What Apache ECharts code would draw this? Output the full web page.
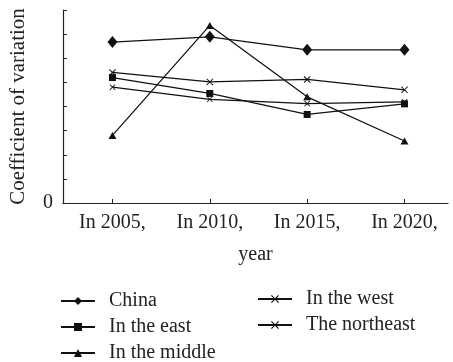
<!DOCTYPE html>
<html>
<head>
<meta charset="utf-8">
<script src="https://cdn.jsdelivr.net/npm/echarts@6/dist/echarts.min.js"></script>
<style>
  html, body { margin: 0; padding: 0; background: #fff; }
  #chart { width: 453px; height: 362px; }
</style>
</head>
<body>
<div id="chart"></div>
<script>
// Survey years on the horizontal axis
const years = ['In 2005,', 'In 2010,', 'In 2015,', 'In 2020,'];

// Coefficient of variation by region
const china     = [6.67, 6.89, 6.35, 6.35];
const east      = [5.20, 4.54, 3.67, 4.11];
const middle    = [2.80, 7.36, 4.40, 2.57];
const west      = [5.41, 5.02, 5.12, 4.69];
const northeast = [4.80, 4.30, 4.12, 4.19];

const seriesNames = ['China', 'In the east', 'In the middle', 'In the west', 'The northeast'];

const yTicks = [0, 1, 2, 3, 4, 5, 6, 7, 8];

const FONT = '"Liberation Serif", "Times New Roman", serif';
const crossPath = 'path://M0,1L1,0L5,4L9,0L10,1L6,5L10,9L9,10L5,6L1,10L0,9L4,5Z';

function pairs(values) {
  return values.map((v, i) => [i, v]);
}

function lineSeries(name, values, symbol, size) {
  return {
    name: name,
    type: 'line',
    data: pairs(values),
    symbol: symbol,
    symbolSize: size,
    showSymbol: true,
    z: 3,
    lineStyle: { color: '#111', width: 1.25 },
    itemStyle: { color: '#111' },
    emphasis: { disabled: true },
    animation: false
  };
}

const legendBase = {
  orient: 'vertical',
  height: 100,
  padding: 0,
  itemWidth: 34, itemHeight: 10, itemGap: 6,
  textStyle: { fontFamily: FONT, fontSize: 20, color: '#222', padding: [0, 0, 0, 9] },
  selectedMode: false
};

const chart = echarts.init(document.getElementById('chart'), null, { renderer: 'canvas' });

chart.setOption({
  backgroundColor: '#fff',
  animation: false,
  grid: { left: 59, right: 5, top: 10, bottom: 159, containLabel: false },
  xAxis: {
    type: 'value',
    min: -0.508,
    max: 3.447,
    name: 'year',
    nameLocation: 'middle',
    nameGap: 42,
    nameTextStyle: { fontFamily: FONT, fontSize: 20, color: '#222' },
    splitLine: { show: false },
    axisLine: { show: true, onZero: false, lineStyle: { color: '#222', width: 1.2 } },
    axisTick: {
      show: true, inside: true, length: 4,
      customValues: [0, 1, 2, 3],
      lineStyle: { color: '#222', width: 1 }
    },
    axisLabel: {
      customValues: [0, 1, 2, 3],
      margin: 10,
      fontFamily: FONT, fontSize: 20, color: '#222',
      formatter: (v) => years[Math.round(v)] || ''
    }
  },
  yAxis: {
    type: 'value',
    min: 0,
    max: 8,
    interval: 1,
    name: 'Coefficient of variation',
    nameLocation: 'middle',
    nameGap: 34,
    nameTextStyle: { fontFamily: FONT, fontSize: 21, color: '#222' },
    splitLine: { show: false },
    axisLine: { show: true, onZero: false, lineStyle: { color: '#222', width: 1.2 } },
    axisTick: {
      show: true, inside: true, length: 4,
      customValues: yTicks,
      lineStyle: { color: '#222', width: 1 }
    },
    axisLabel: {
      customValues: [0],
      margin: 10,
      fontFamily: FONT, fontSize: 20, color: '#222'
    }
  },
  legend: [
    Object.assign({ data: seriesNames.slice(0, 3), left: 60, top: 291 }, legendBase),
    Object.assign({ data: seriesNames.slice(3), left: 257, top: 289 }, legendBase)
  ],
  series: [
    lineSeries(seriesNames[0], china, 'diamond', [10, 12]),
    lineSeries(seriesNames[1], east, 'rect', 7),
    lineSeries(seriesNames[2], middle, 'triangle', [8, 7]),
    lineSeries(seriesNames[3], west, crossPath, 7),
    lineSeries(seriesNames[4], northeast, crossPath, 6)
  ]
});
</script>
</body>
</html>
